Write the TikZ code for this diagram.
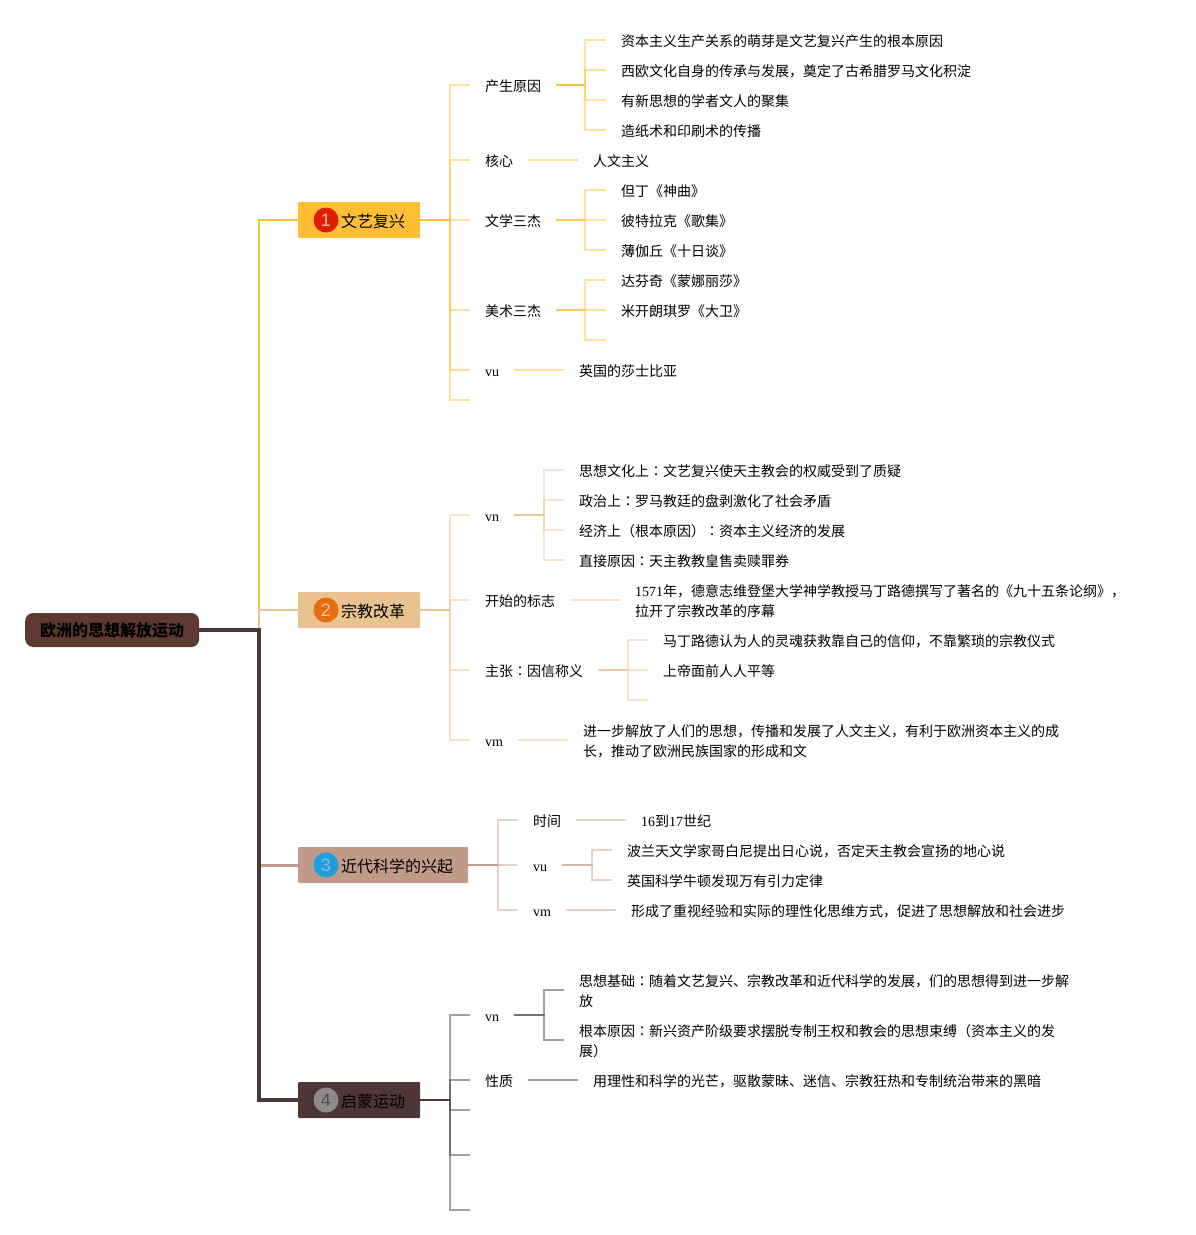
\documentclass[tikz,border=0pt]{standalone}
\usepackage{fontspec}
\setmainfont{Noto Sans CJK SC}
\newfontfamily\lat{Liberation Serif}
\newfontfamily\cjktc{Noto Sans CJK TC}
\newfontfamily\numfont{Liberation Sans}
\newcommand{\mh}{{\cjktc ：}}
\definecolor{ylw}{HTML}{FFBE33}
\definecolor{tan}{HTML}{E8C28F}
\definecolor{pnk}{HTML}{C29A8A}
\definecolor{drk}{HTML}{4E3536}
\definecolor{gry}{HTML}{4A4040}
\definecolor{rootfill}{HTML}{5F3A30}
\tikzset{
    leaf/.style={anchor=west, inner xsep=15pt, inner ysep=0pt, align=left, font=\fontsize{14}{20}\selectfont,
        execute at begin node={\rule{0pt}{14pt}}, execute at end node={\rule[-2pt]{0pt}{2pt}}},
    twoline/.style={leaf, execute at begin node={\rule{0pt}{34pt}}},
    topic/.style={anchor=west, inner xsep=15pt, inner ysep=0pt, minimum height=36pt, rounded corners=1pt, font=\fontsize{16}{20}\selectfont,
        execute at begin node={\rule{0pt}{16pt}}, execute at end node={\rule[-2pt]{0pt}{2pt}}},
    badge/.style={circle, inner sep=0pt, minimum size=25pt, font=\numfont\fontsize{18}{20}\selectfont},
    rootbox/.style={anchor=west, inner xsep=15pt, inner ysep=0pt, minimum height=34pt, rounded corners=8pt, fill=rootfill, font=\bfseries\fontsize{16}{20}\selectfont},
    l1/.style={draw=ylw, line width=1.5pt, opacity=.45},
    l2/.style={draw=tan, line width=1.5pt, opacity=.45},
    l3/.style={draw=pnk, line width=1.5pt, opacity=.45},
    l4/.style={draw=gry, line width=1.5pt, opacity=.5}
}
\begin{document}
\begin{tikzpicture}[x=1pt, y=-1pt]
    \useasboundingbox (0, 0) rectangle (1195, 1235);

    % root and topics
    \node[rootbox] (root) at (25, 630) {欧洲的思想解放运动};
    \node[topic, fill=ylw] (t1) at (298, 220) {\hspace{28pt}文艺复兴};
    \node[topic, fill=tan] (t2) at (298, 610) {\hspace{28pt}宗教改革};
    \node[topic, fill=pnk] (t3) at (298, 865) {\hspace{28pt}近代科学的兴起};
    \node[topic, fill=drk] (t4) at (298, 1100) {\hspace{28pt}启蒙运动};

    \node[badge, fill={rgb,255:red,221;green,31;blue,0}, text={rgb,255:red,248;green,190;blue,170}] (n1) at (326, 220) {1};
    \node[badge, fill={rgb,255:red,232;green,108;blue,18}, text={rgb,255:red,245;green,199;blue,160}] (n2) at (326, 610) {2};
    \node[badge, fill={rgb,255:red,29;green,159;blue,224}, text={rgb,255:red,150;green,185;blue,205}] (n3) at (326, 865) {3};
    \node[badge, fill={rgb,255:red,145;green,138;blue,138}, text={rgb,255:red,85;green,78;blue,78}] (n4) at (326, 1100) {4};

    \coordinate (rb) at (259, 630);
    \coordinate (t1b) at (450, 220);
    \coordinate (t2b) at (450, 610);
    \coordinate (t3b) at (498, 865);
    \coordinate (t4b) at (450, 1100);

    % first topic
    \node[leaf] (a1) at (470, 85) {产生原因};
    \node[leaf] (a2) at (470, 160) {核心};
    \node[leaf] (a3) at (470, 220) {文学三杰};
    \node[leaf] (a4) at (470, 310) {美术三杰};
    \node[leaf] (a5) at (470, 370) {\lat vu};
    \coordinate (a6) at (470, 400);

    \coordinate (a1b) at (585, 85);
    \node[leaf] (a11) at (606, 40) {资本主义生产关系的萌芽是文艺复兴产生的根本原因};
    \node[leaf] (a12) at (606, 70) {西欧文化自身的传承与发展，奠定了古希腊罗马文化积淀};
    \node[leaf] (a13) at (606, 100) {有新思想的学者文人的聚集};
    \node[leaf] (a14) at (606, 130) {造纸术和印刷术的传播};

    \node[leaf] (a21) at (578, 160) {人文主义};

    \coordinate (a3b) at (585, 220);
    \node[leaf] (a31) at (606, 190) {但丁《神曲》};
    \node[leaf] (a32) at (606, 220) {彼特拉克《歌集》};
    \node[leaf] (a33) at (606, 250) {薄伽丘《十日谈》};

    \coordinate (a4b) at (585, 310);
    \node[leaf] (a41) at (606, 280) {达芬奇《蒙娜丽莎》};
    \node[leaf] (a42) at (606, 310) {米开朗琪罗《大卫》};
    \coordinate (a43) at (606, 340);

    \node[leaf] (a51) at (564, 370) {英国的莎士比亚};

    % second topic
    \node[leaf] (b1) at (470, 515) {\lat vn};
    \node[leaf] (b2) at (470, 600) {开始的标志};
    \node[leaf] (b3) at (470, 670) {主张\mh 因信称义};
    \node[leaf] (b4) at (470, 740) {\lat vm};

    \coordinate (b1b) at (544, 515);
    \node[leaf] (b11) at (564, 470) {思想文化上\mh 文艺复兴使天主教会的权威受到了质疑};
    \node[leaf] (b12) at (564, 500) {政治上\mh 罗马教廷的盘剥激化了社会矛盾};
    \node[leaf] (b13) at (564, 530) {经济上（根本原因）\mh 资本主义经济的发展};
    \node[leaf] (b14) at (564, 560) {直接原因\mh 天主教教皇售卖赎罪券};

    \node[twoline] (b21) at (620, 600) {{\lat 1571}年，德意志维登堡大学神学教授马丁路德撰写了著名的《九十五条论纲》，\\拉开了宗教改革的序幕};

    \coordinate (b3b) at (628, 670);
    \node[leaf] (b31) at (648, 640) {马丁路德认为人的灵魂获救靠自己的信仰，不靠繁琐的宗教仪式};
    \node[leaf] (b32) at (648, 670) {上帝面前人人平等};
    \coordinate (b33) at (648, 700);

    \node[twoline] (b41) at (568, 740) {进一步解放了人们的思想，传播和发展了人文主义，有利于欧洲资本主义的成\\长，推动了欧洲民族国家的形成和文};

    % third topic
    \node[leaf] (c1) at (518, 820) {时间};
    \node[leaf] (c2) at (518, 865) {\lat vu};
    \node[leaf] (c3) at (518, 910) {\lat vm};

    \node[leaf] (c11) at (626, 820) {{\lat 16}到{\lat 17}世纪};

    \coordinate (c2b) at (592, 865);
    \node[leaf] (c21) at (612, 850) {波兰天文学家哥白尼提出日心说，否定天主教会宣扬的地心说};
    \node[leaf] (c22) at (612, 880) {英国科学牛顿发现万有引力定律};

    \node[leaf] (c31) at (616, 910) {形成了重视经验和实际的理性化思维方式，促进了思想解放和社会进步};

    % fourth topic
    \node[leaf] (d1) at (470, 1015) {\lat vn};
    \node[leaf] (d2) at (470, 1080) {性质};
    \coordinate (d3) at (470, 1110);
    \coordinate (d4) at (470, 1155);
    \coordinate (d5) at (470, 1210);

    \coordinate (d1b) at (544, 1015);
    \node[twoline] (d11) at (564, 990) {思想基础\mh 随着文艺复兴、宗教改革和近代科学的发展，们的思想得到进一步解\\放};
    \node[twoline] (d12) at (564, 1040) {根本原因\mh 新兴资产阶级要求摆脱专制王权和教会的思想束缚（资本主义的发\\展）};

    \node[leaf] (d21) at (578, 1080) {用理性和科学的光芒，驱散蒙昧、迷信、宗教狂热和专制统治带来的黑暗};

    % root connectors
    \draw[draw=ylw, line width=2.5pt] (rb) |- (t1.west);
    \draw[draw=tan, line width=2.5pt] (rb) |- (t2.west);
    \draw[draw=pnk, line width=3pt] (rb) |- (t3.west);
    \draw[draw=drk, line width=3.5pt] (root.east) -- (rb) |- (t4.west);

    % first topic connectors
    \draw[draw=ylw, line width=2pt] (t1.east) -- (t1b);
    \draw[l1] (t1b) |- (a1.west);
    \draw[l1] (t1b) |- (a2.west);
    \draw[l1] (t1b) -- (a3.west);
    \draw[l1] (t1b) |- (a4.west);
    \draw[l1] (t1b) |- (a5.west);
    \draw[l1] (t1b) |- (a6);

    \draw[l1] (a1.east) -- (a1b) |- (a11.west);
    \draw[l1] (a1.east) -- (a1b) |- (a12.west);
    \draw[l1] (a1.east) -- (a1b) |- (a13.west);
    \draw[l1] (a1.east) -- (a1b) |- (a14.west);

    \draw[l1] (a2.east) -- (a21.west);

    \draw[l1] (a3.east) -- (a3b) |- (a31.west);
    \draw[l1] (a3.east) -- (a32.west);
    \draw[l1] (a3.east) -- (a3b) |- (a33.west);

    \draw[l1] (a4.east) -- (a4b) |- (a41.west);
    \draw[l1] (a4.east) -- (a42.west);
    \draw[l1] (a4.east) -- (a4b) |- (a43);

    \draw[l1] (a5.east) -- (a51.west);

    % second topic connectors
    \draw[draw=tan, line width=2pt] (t2.east) -- (t2b);
    \draw[l2] (t2b) |- (b1.west);
    \draw[l2] (t2b) |- (b2.west);
    \draw[l2] (t2b) |- (b3.west);
    \draw[l2] (t2b) |- (b4.west);

    \draw[l2] (b1.east) -- (b1b) |- (b11.west);
    \draw[l2] (b1.east) -- (b1b) |- (b12.west);
    \draw[l2] (b1.east) -- (b1b) |- (b13.west);
    \draw[l2] (b1.east) -- (b1b) |- (b14.west);

    \draw[l2] (b2.east) -- (b21.west);

    \draw[l2] (b3.east) -- (b3b) |- (b31.west);
    \draw[l2] (b3.east) -- (b32.west);
    \draw[l2] (b3.east) -- (b3b) |- (b33);

    \draw[l2] (b4.east) -- (b41.west);

    % third topic connectors
    \draw[draw=pnk, line width=2pt] (t3.east) -- (t3b);
    \draw[l3] (t3b) |- (c1.west);
    \draw[l3] (t3b) -- (c2.west);
    \draw[l3] (t3b) |- (c3.west);

    \draw[l3] (c1.east) -- (c11.west);

    \draw[l3] (c2.east) -- (c2b) |- (c21.west);
    \draw[l3] (c2.east) -- (c2b) |- (c22.west);

    \draw[l3] (c3.east) -- (c31.west);

    % fourth topic connectors
    \draw[draw=drk, line width=2pt] (t4.east) -- (t4b);
    \draw[l4] (t4b) |- (d1.west);
    \draw[l4] (t4b) |- (d2.west);
    \draw[l4] (t4b) |- (d3);
    \draw[l4] (t4b) |- (d4);
    \draw[l4] (t4b) |- (d5);

    \draw[l4] (d1.east) -- (d1b) |- (d11.west);
    \draw[l4] (d1.east) -- (d1b) |- (d12.west);

    \draw[l4] (d2.east) -- (d21.west);
\end{tikzpicture}
\end{document}
